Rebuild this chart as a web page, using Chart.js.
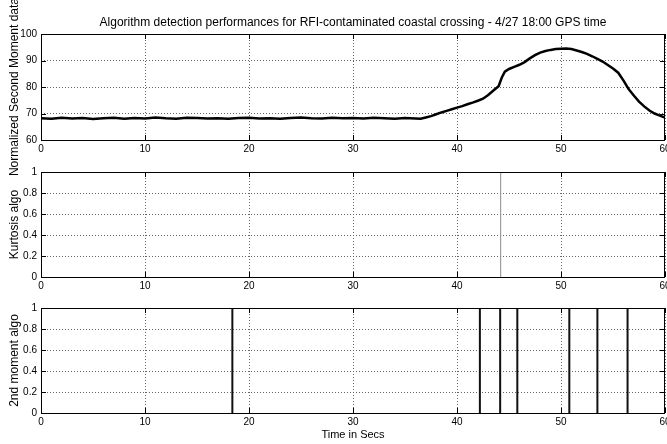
<!DOCTYPE html>
<html>
<head>
<meta charset="utf-8">
<script src="https://cdn.jsdelivr.net/npm/chart.js@4.4.1/dist/chart.umd.min.js"></script>
<style>
body { margin: 0; background: #fff; }
#wrap { position: relative; width: 667px; height: 444px; overflow: hidden; }
canvas { position: absolute; left: 0; }
</style>
</head>
<body>
<div id="wrap">
  <canvas id="c1" width="667" height="180" style="top:0px"></canvas>
  <canvas id="c2" width="667" height="136" style="top:160px"></canvas>
  <canvas id="c3" width="667" height="148" style="top:296px"></canvas>
</div>
<script>
// normalized second moment
var momentTimes = [0,1,2,3,4,5,6,7,8,9,10,11,12,13,14,15,16,17,18,19,20,21,22,23,24,25,26,27,28,29,30,31,32,33,34,35,36,
  36.5,37,37.5,38,38.5,39,39.5,40,40.5,41,41.5,42,42.5,43,43.5,44,44.3,44.6,
  45,45.5,46,46.5,47,47.5,48,48.5,49,49.5,50,50.5,51,51.5,52,52.5,53,53.5,54,54.5,55,55.5,56,56.5,57,57.5,58,58.5,59,59.5,60];
var momentValues = [68.2,68.0,68.4,68.1,68.3,67.9,68.2,68.4,68.0,68.3,68.1,68.5,68.2,68.0,68.4,68.3,68.1,68.2,68.0,68.3,68.4,68.1,68.2,68.0,68.3,68.5,68.2,68.1,68.4,68.2,68.3,68.1,68.4,68.2,68.0,68.3,68.1,
  68.0,68.5,69.0,69.7,70.4,71.0,71.6,72.2,72.8,73.5,74.1,74.8,75.6,77.0,78.7,80.3,83.5,85.8,
  86.8,87.6,88.4,89.4,90.8,92.0,93.0,93.6,94.0,94.3,94.4,94.5,94.3,93.8,93.2,92.5,91.6,90.6,89.6,88.3,87.0,85.4,82.5,79.2,76.8,74.5,72.7,71.1,70.0,69.2,68.5];

// detection flags (times where the algorithm fired)
var kurtosisHits = [44.2];
var secondMomentHits = [18.4, 42.2, 44.15, 45.8, 50.8, 53.5, 56.4];

var xTicks = [0, 10, 20, 30, 40, 50, 60];

var sans = "Arial,'Liberation Sans',sans-serif";

function toPoints(times, values) {
  return times.map(function (t, i) { return { x: t, y: values[i] }; });
}

// vertical strokes from 0 to 1 at each hit, broken by gaps
function spikes(hits) {
  var pts = [];
  hits.forEach(function (t) {
    pts.push({ x: t, y: 0 }, { x: t, y: 1 }, { x: t, y: null });
  });
  return pts;
}

// matlab style box with inward ticks
var frame = {
  id: 'frame',
  afterDraw: function (chart) {
    var ctx = chart.ctx, a = chart.chartArea, sx = chart.scales.x, sy = chart.scales.y;
    ctx.save();
    ctx.strokeStyle = '#000';
    ctx.lineWidth = 1;
    ctx.beginPath();
    sx.ticks.forEach(function (t) {
      var p = Math.round(sx.getPixelForValue(t.value)) + 0.5;
      ctx.moveTo(p, a.bottom); ctx.lineTo(p, a.bottom - 5);
      ctx.moveTo(p, a.top); ctx.lineTo(p, a.top + 5);
    });
    sy.ticks.forEach(function (t) {
      var p = Math.round(sy.getPixelForValue(t.value)) + 0.5;
      ctx.moveTo(a.left, p); ctx.lineTo(a.left + 5, p);
      ctx.moveTo(a.right, p); ctx.lineTo(a.right - 5, p);
    });
    ctx.stroke();
    ctx.strokeRect(Math.round(a.left) + 0.5, Math.round(a.top) + 0.5,
      Math.round(a.right - a.left) - 1, Math.round(a.bottom - a.top));
    ctx.restore();
  }
};

function makePlot(id, o) {
  return new Chart(document.getElementById(id), {
    type: 'line',
    data: { datasets: o.datasets },
    options: {
      responsive: false,
      animation: false,
      events: [],
      layout: { padding: { top: o.padTop, right: 2, left: 0, bottom: 0 } },
      plugins: {
        legend: { display: false },
        tooltip: { enabled: false },
        title: o.title ? {
          display: true,
          text: o.title,
          fullSize: false,
          color: '#000',
          font: { family: sans, size: 12, weight: 'normal' },
          padding: { top: 15.5, bottom: 4.1 }
        } : { display: false }
      },
      scales: {
        x: {
          type: 'linear',
          min: 0, max: 60,
          afterBuildTicks: function (s) { s.ticks = xTicks.map(function (v) { return { value: v }; }); },
          afterFit: function (s) { s.height = o.xHeight; s.paddingLeft = 0; s.paddingRight = 0; },
          grid: { color: '#666', lineWidth: 1, drawTicks: false },
          border: { display: false, dash: [1, 2] },
          ticks: { color: '#000', padding: 3, maxRotation: 0, autoSkip: false, font: { family: sans, size: 10 } },
          title: o.xTitle ? {
            display: true, text: o.xTitle, color: '#000',
            font: { family: sans, size: 11 }, padding: { top: 0, bottom: 2 }
          } : { display: false }
        },
        y: {
          min: o.yMin, max: o.yMax,
          afterBuildTicks: function (s) { s.ticks = o.yTicks.map(function (v) { return { value: v }; }); },
          afterFit: function (s) { s.width = 41; s.paddingTop = 0; s.paddingBottom = 0; },
          grid: { color: '#666', lineWidth: 1, drawTicks: false },
          border: { display: false, dash: [1, 2] },
          ticks: {
            color: '#000', padding: 4, font: { family: sans, size: 10 },
            callback: function (v) { return String(v); }
          },
          title: {
            display: true, text: o.yTitle, color: '#000',
            font: { family: sans, size: 12 }, padding: { top: 7, bottom: 0 }
          }
        }
      }
    },
    plugins: [frame]
  });
}

makePlot('c1', {
  title: 'Algorithm detection performances for RFI-contaminated coastal crossing - 4/27 18:00 GPS time',
  padTop: 0, xHeight: 40,
  yMin: 60, yMax: 100, yTicks: [60, 70, 80, 90, 100],
  yTitle: 'Normalized Second Moment data',
  datasets: [{
    data: toPoints(momentTimes, momentValues),
    borderColor: '#000', borderWidth: 2.5, pointRadius: 0, tension: 0
  }]
});

makePlot('c2', {
  padTop: 12, xHeight: 19,
  yMin: 0, yMax: 1, yTicks: [0, 0.2, 0.4, 0.6, 0.8, 1],
  yTitle: 'Kurtosis algo',
  datasets: [{
    data: spikes(kurtosisHits),
    borderColor: '#8a8a8a', borderWidth: 1, pointRadius: 0, spanGaps: false
  }]
});

makePlot('c3', {
  padTop: 12, xHeight: 31,
  yMin: 0, yMax: 1, yTicks: [0, 0.2, 0.4, 0.6, 0.8, 1],
  yTitle: '2nd moment algo',
  xTitle: 'Time in Secs',
  datasets: [{
    data: spikes(secondMomentHits),
    borderColor: '#111', borderWidth: 2, pointRadius: 0, spanGaps: false
  }]
});
</script>
</body>
</html>
